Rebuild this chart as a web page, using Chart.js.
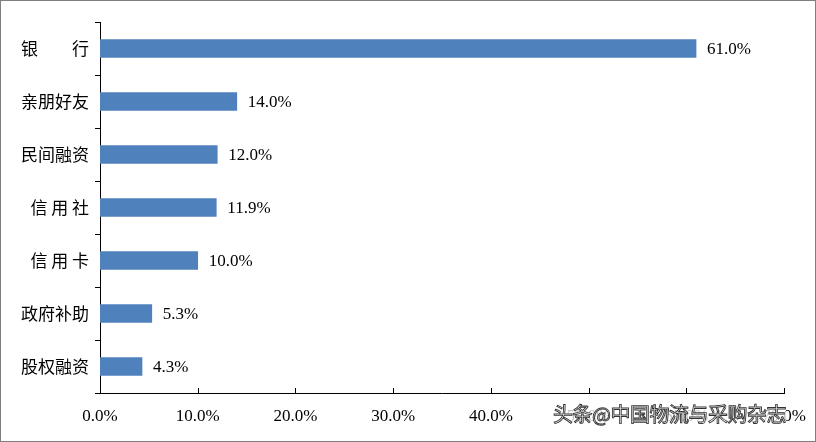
<!DOCTYPE html>
<html><head><meta charset="utf-8">
<script src="https://cdn.jsdelivr.net/npm/chart.js@4/dist/chart.umd.min.js"></script>
<style>
html,body{margin:0;padding:0;background:#fff}
#wrap{position:relative;width:814px;height:440px;border:1px solid #7f7f7f}
#wm{position:absolute;left:552px;top:400px;font:20px "Noto Sans CJK SC";color:#fff;-webkit-text-stroke:0.9px #333;letter-spacing:-0.5px;background:rgba(255,255,255,0.75);line-height:26px}
</style></head><body>
<div id="wrap"><canvas id="c" width="814" height="440"></canvas><div id="wm">头条@中国物流与采购杂志</div></div>
<script>
const categories=["银　　行","亲朋好友","民间融资","信 用 社","信 用 卡","政府补助","股权融资"];
const values=[61.0,14.0,12.0,11.9,10.0,5.3,4.3];
const xTicks=[0,10,20,30,40,50,60,70];
const numFont='"Liberation Serif", serif';
const plug={id:'p',afterDatasetsDraw(ch){
 const c=ch.ctx,m=ch.getDatasetMeta(0),x=ch.scales.x,b=ch.chartArea.bottom;
 c.save();c.fillStyle='#000';c.font='17px '+numFont;c.textBaseline='middle';
 m.data.forEach((e,i)=>c.fillText(values[i].toFixed(1)+'%',e.x+11,e.y+1));
 c.strokeStyle='#000';c.lineWidth=1;
 xTicks.forEach(t=>{const px=Math.round(x.getPixelForValue(t))+0.5;c.beginPath();c.moveTo(px,b);c.lineTo(px,b-5);c.stroke();});
 c.restore();}};
new Chart(document.getElementById('c'),{type:'bar',
 data:{labels:categories,datasets:[{data:values,backgroundColor:'#4f81bd',barThickness:18}]},
 options:{indexAxis:'y',responsive:false,animation:false,
  layout:{padding:{left:0,top:21,right:31,bottom:0}},
  plugins:{legend:{display:false},tooltip:{enabled:false}},
  scales:{
   x:{min:0,max:70,afterBuildTicks(s){s.ticks=xTicks.map(v=>({value:v}));},
      afterFit(s){s.height=48;},
      grid:{display:false},border:{display:true,color:'#000',width:1},
      ticks:{padding:5,color:'#000',font:{family:numFont,size:17},callback:v=>v.toFixed(1)+'%'}},
   y:{afterFit(s){s.width=99;},
      grid:{display:true,drawOnChartArea:false,offset:true,tickLength:5,color:'#000'},
      border:{display:true,color:'#000',width:1},
      ticks:{padding:6,color:'#000',font:{family:'"Noto Sans CJK SC"',size:17}}}
  }},plugins:[plug]});
</script></body></html>
